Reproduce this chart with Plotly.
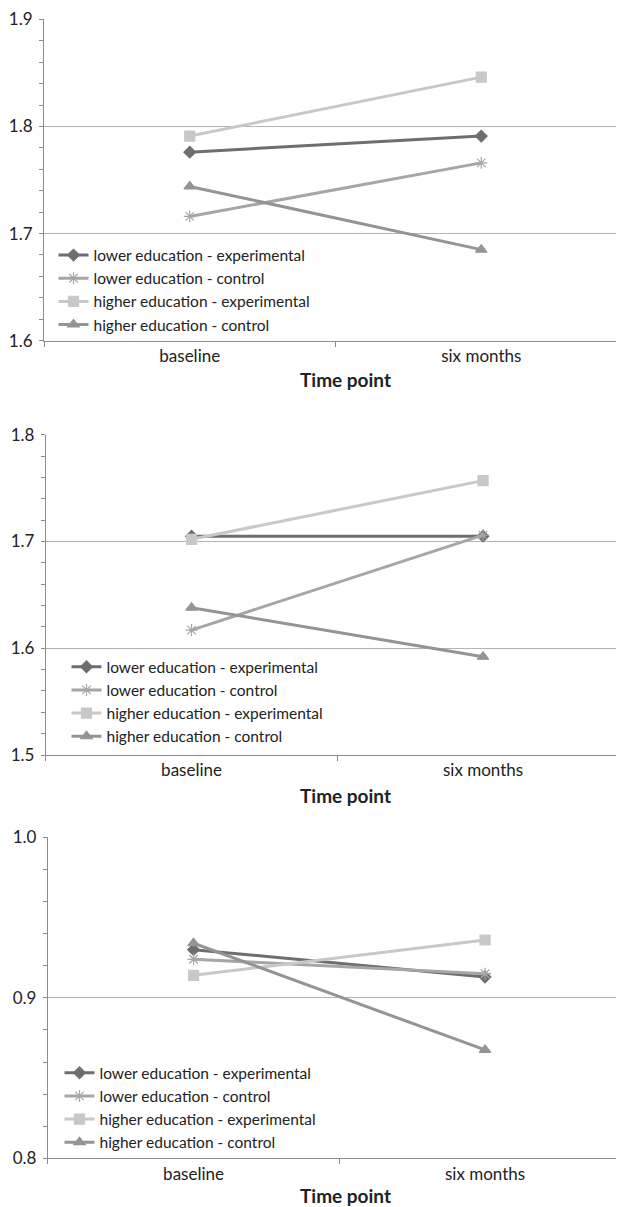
import plotly.graph_objects as go

time_points = ["baseline", "six months"]
series_names = [
    "lower education - experimental",
    "lower education - control",
    "higher education - experimental",
    "higher education - control",
]
# panel values: [lower exp, lower ctrl, higher exp, higher ctrl]
panel1_values = [[1.776, 1.791], [1.716, 1.766], [1.791, 1.846], [1.744, 1.685]]
panel2_values = [[1.705, 1.705], [1.617, 1.706], [1.702, 1.757], [1.638, 1.592]]
panel3_values = [[0.930, 0.913], [0.924, 0.915], [0.914, 0.936], [0.934, 0.8675]]
y_ranges = [[1.6, 1.9], [1.5, 1.8], [0.8, 1.0]]
y_dticks = [0.1, 0.1, 0.1]
x_title = "Time point"

colors = ["#6e6e6e", "#a6a6a6", "#c8c8c8", "#949494"]
symbols = ["diamond", "asterisk-open", "square", "triangle-up"]
msizes = [9, 10, 10, 10]

OFF = 8  # page body margin
W, H = 624 - OFF, 1207 - OFF
FONT = "Lato"

# reference pixel layout (top, bottom, left axis x, legend line start x, first legend item centre y, title y)
panels = [
    dict(top=19.3, bot=340.7, left=44.0, lx=58.5, ly=255.0, ty=380.0),
    dict(top=434.7, bot=755.0, left=45.8, lx=71.5, ly=666.7, ty=795.0),
    dict(top=837.3, bot=1158.3, left=47.8, lx=64.5, ly=1072.7, ty=1195.5),
]
all_values = [panel1_values, panel2_values, panel3_values]

fig = go.Figure()
for p, (pan, vals) in enumerate(zip(panels, all_values)):
    top, bot, left = pan["top"] - OFF, pan["bot"] - OFF, pan["left"] - OFF
    xa = "x" if p == 0 else f"x{p+1}"
    ya = "y" if p == 0 else f"y{p+1}"
    lg = "legend" if p == 0 else f"legend{p+1}"
    for i, name in enumerate(series_names):
        fig.add_trace(go.Scatter(
            x=time_points, y=vals[i], name=name, mode="lines+markers",
            xaxis=xa, yaxis=ya, legend=lg,
            line=dict(color=colors[i], width=3),
            marker=dict(symbol=symbols[i], size=msizes[i], color=colors[i],
                        line=dict(color=colors[i], width=1.2)),
        ))
    dom_y = [1 - bot / H, 1 - top / H]
    dom_x = [left / W, 1.0]
    rmax = -0.5 + 2 * (W - left) / 583.0
    xkey = "xaxis" if p == 0 else f"xaxis{p+1}"
    ykey = "yaxis" if p == 0 else f"yaxis{p+1}"
    fig.update_layout(**{
        xkey: dict(domain=dom_x, anchor=ya, type="category", range=[-0.5, rmax],
                   tickson="boundaries", ticks="outside", ticklen=5, tickcolor="#8c8c8c",
                   showline=True, linecolor="#8c8c8c", linewidth=1, showgrid=False,
                   tickfont=dict(family=FONT, size=17, color="#222222"),
                   automargin=False, fixedrange=True),
        ykey: dict(domain=dom_y, anchor=xa, range=y_ranges[p], dtick=y_dticks[p],
                   tickformat=".1f", ticks="outside", ticklen=4, tickcolor="#8c8c8c",
                   ticklabelstandoff=3,
                   showline=True, linecolor="#8c8c8c", linewidth=1,
                   showgrid=True, gridcolor="#b4b4b4", gridwidth=1, zeroline=False,
                   minor=dict(dtick=0.02, ticks="outside", ticklen=4, tickcolor="#8c8c8c", showgrid=False),
                   tickfont=dict(family=FONT, size=17, color="#222222"),
                   automargin=False, fixedrange=True),
        lg: dict(x=(pan["lx"] - OFF - 5) / W, y=1 - (pan["ly"] - OFF - 16.5) / H,
                 xanchor="left", yanchor="top",
                 bgcolor="rgba(0,0,0,0)", font=dict(family=FONT, size=15.5, color="#222222"),
                 itemwidth=30),
    })
    fig.add_annotation(text=f"<b>{x_title}</b>", xref="paper", yref="paper",
                       x=(345 - OFF) / W, y=1 - (pan["ty"] - OFF) / H,
                       showarrow=False, xanchor="center", yanchor="middle",
                       font=dict(family=FONT, size=19, color="#222222"))

fig.update_layout(width=W, height=H, margin=dict(l=0, r=0, t=0, b=0),
                  paper_bgcolor="white", plot_bgcolor="white", showlegend=True)
fig.write_html("out.html")
